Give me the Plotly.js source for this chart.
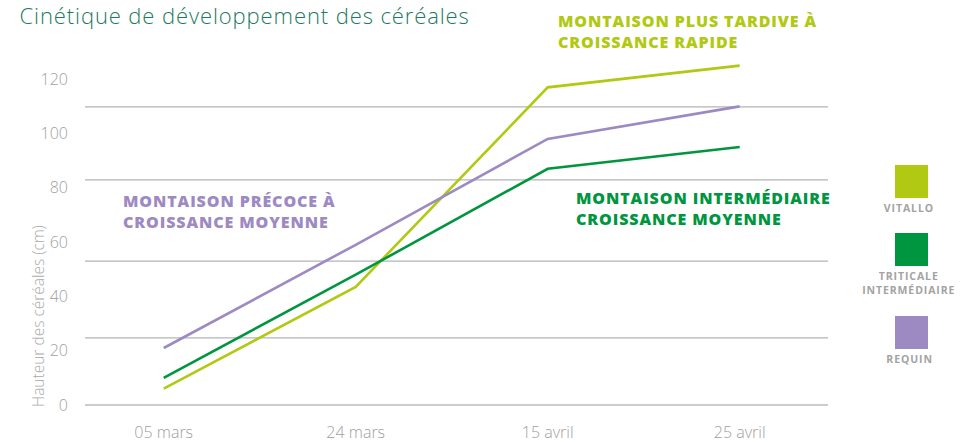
<!DOCTYPE html>
<html><head><meta charset="utf-8">
<script src="https://cdn.plot.ly/plotly-3.0.1.min.js"></script>
<style>
body{margin:0;background:#fff}#c{width:963px;height:445px}
g.annotation text{letter-spacing:0.9px}
g.annotation[data-index="1"] text{letter-spacing:0}
</style>
</head><body><div id="c"></div>
<script>
const dates = ["05 mars", "24 mars", "15 avril", "25 avril"];
const vitallo = [6, 43.5, 117, 125];
const triticale = [10, 48, 87, 95];
const requin = [21, 59, 98, 110];
const yTicks = [0, 20, 40, 60, 80, 100, 120];
const gridLevels = [0, 24.7, 53, 82.9, 109.8];

const cV = "#b1c912", cT = "#00963f", cR = "#9e8ac3";
const L = 85, R = 828, T = 60, B = 420;
const px = x => (x - L) / (R - L);
const py = y => (B - y) / (B - T);

const traces = [
  {x: dates, y: vitallo, name: "VITALLO", line: {color: cV, width: 2.6}},
  {x: dates, y: triticale, name: "TRITICALE INTERMÉDIAIRE", line: {color: cT, width: 2.6}},
  {x: dates, y: requin, name: "REQUIN", line: {color: cR, width: 2.6}}
].map(t => Object.assign({type: "scatter", mode: "lines", hoverinfo: "skip"}, t));

const shapes = gridLevels.map((g, i) => ({
  type: "line", xref: "paper", yref: "y", x0: 0, x1: 1, y0: g, y1: g,
  line: {color: i === 0 ? "#cccccc" : "#b4b4b4", width: i === 0 ? 2 : 1.2}, layer: "below"
}));
const legendItems = [
  {c: cV, top: 165, label: "VITALLO", ly: 208},
  {c: cT, top: 233, label: "TRITICALE<br>INTERMÉDIAIRE", ly: 283},
  {c: cR, top: 316, label: "REQUIN", ly: 359}
];
legendItems.forEach(it => shapes.push({
  type: "rect", xref: "paper", yref: "paper",
  x0: px(895), x1: px(928), y0: py(it.top + 33), y1: py(it.top),
  fillcolor: it.c, line: {width: 0}
}));

const FAM = "'Open Sans', Lato, sans-serif";
const bold = (c) => ({family: FAM, size: 16, color: c, weight: 800});
const labels = [
  {t: "MONTAISON PLUS TARDIVE À<br>CROISSANCE RAPIDE", x: 556, y: 31, c: cV},
  {t: "MONTAISON PRÉCOCE À<br>CROISSANCE MOYENNE", x: 121, y: 211.5, c: cR},
  {t: "MONTAISON INTERMÉDIAIRE<br>CROISSANCE MOYENNE", x: 574, y: 208.5, c: cT}
];
const annotations = [
  {text: "Cinétique de développement des céréales", x: px(35), y: py(15), xanchor: "left",
   font: {family: FAM, size: 22, color: "#1d7a60", weight: 300}},
  {text: "Hauteur des céréales (cm)", x: px(25), y: py(316), textangle: -90,
   font: {family: FAM, size: 15.5, color: "#aaaaaa", weight: 300}}
].concat(labels.map(l => ({text: l.t, x: px(l.x), y: py(l.y), xanchor: "left", align: "left", font: bold(l.c)})))
 .map(a => Object.assign({xref: "paper", yref: "paper", showarrow: false, yanchor: "middle"}, a));
legendItems.forEach(it => annotations.push({
  xref: "paper", yref: "paper", showarrow: false, x: px(909), y: py(it.ly), xanchor: "center", yanchor: "middle",
  text: it.label, align: "center",
  font: {family: FAM, size: 10.5, color: "#a3a3a3", weight: 700}
}));

const tickFont = {family: FAM, size: 16, color: "#a0a0a0", weight: 300};
const layout = {
  width: 963, height: 445,
  margin: {l: L, r: 963 - R, t: T, b: 445 - B},
  paper_bgcolor: "#fff", plot_bgcolor: "#fff",
  showlegend: false,
  xaxis: {type: "category", range: [-0.41, 3.46], showgrid: false, zeroline: false, showline: false,
          ticks: "", tickfont: tickFont, ticklabelstandoff: 1},
  yaxis: {range: [-(B - 405) / 2.715, (405 - T) / 2.715], tickvals: yTicks, showgrid: false, zeroline: false,
          showline: false, ticks: "", tickfont: tickFont, ticklabelstandoff: 16},
  shapes: shapes,
  annotations: annotations
};
Plotly.newPlot("c", traces, layout, {displayModeBar: false, staticPlot: true});
</script></body></html>
